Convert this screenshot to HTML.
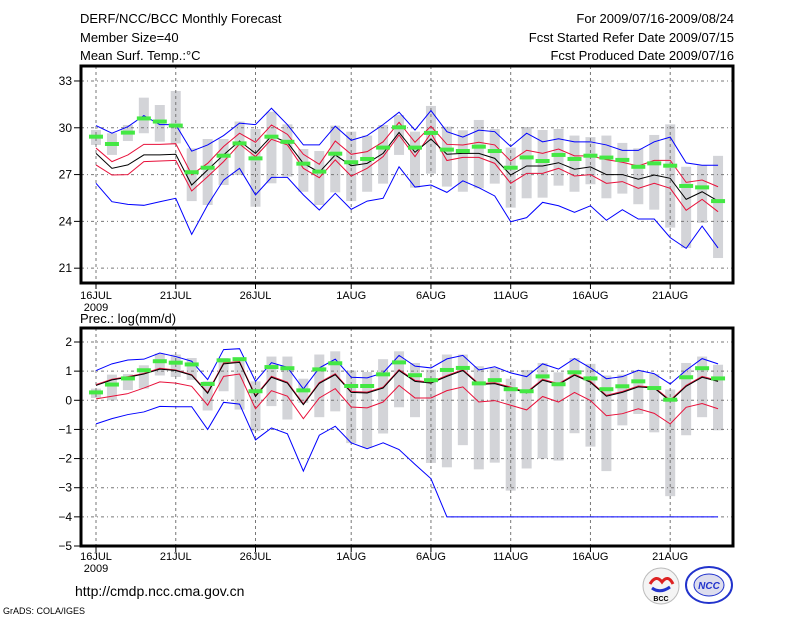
<!DOCTYPE html>
<html><head><meta charset="utf-8"><style>
html,body{margin:0;padding:0;background:#fff}
svg{display:block}
text{font-family:"Liberation Sans",sans-serif;fill:#000}
</style></head><body>
<svg id="chart" width="800" height="618" viewBox="0 0 800 618">
<g font-size="13">
<text x="80" y="23">DERF/NCC/BCC Monthly Forecast</text>
<text x="80" y="42">Member Size=40</text>
<text x="80" y="60">Mean Surf. Temp.:°C</text>
<text x="734" y="23" text-anchor="end">For 2009/07/16-2009/08/24</text>
<text x="734" y="42" text-anchor="end">Fcst Started Refer Date 2009/07/15</text>
<text x="734" y="60" text-anchor="end">Fcst Produced Date 2009/07/16</text>
</g>
<text x="80" y="323" font-size="13">Prec.: log(mm/d)</text>
<g id="top"></g>
<g id="bot"></g>
<text x="75" y="596" font-size="14">http://cmdp.ncc.cma.gov.cn</text>
<text x="3" y="614" font-size="9">GrADS: COLA/IGES</text>
<g>
<circle cx="661" cy="586" r="18" fill="#f4f4f4" stroke="#bbb"/>
<path d="M650 584 q6 -10 12 -2 q6 -8 11 2" stroke="#d22" stroke-width="3" fill="none"/>
<path d="M652 588 q8 6 18 -1" stroke="#23c" stroke-width="3" fill="none"/>
<text x="661" y="601" font-size="7" text-anchor="middle" font-weight="bold">BCC</text>
</g>
<g>
<ellipse cx="709" cy="585" rx="23" ry="18" fill="#fff" stroke="#23c" stroke-width="2"/>
<ellipse cx="709" cy="585" rx="15" ry="11" fill="#dde" stroke="#23c"/>
<text x="709" y="589" font-size="10" font-style="italic" font-weight="bold" text-anchor="middle" style="fill:#23c">NCC</text>
</g>
</svg>
<script>
// ---- temperature data ----
const days = ["16JUL","21JUL","26JUL","1AUG","6AUG","11AUG","16AUG","21AUG"];
const tickDays = [0,5,10,16,21,26,31,36];
const tTicks = [33,30,27,24,21];
const tMax = [30.14,29.65,30.07,30.78,30.2,30.2,28.5,28.9,29.5,30.3,30.2,31.25,30.2,28.9,28.9,30.1,29.2,29.5,30.2,31.0,29.85,31.1,29.75,29.4,29.85,29.75,28.8,29.65,29.1,29.3,29.1,29.1,28.9,28.55,28.55,29.1,29.4,27.75,27.6,27.6];
const tMin = [26.44,25.26,25.09,25.03,25.26,25.48,23.17,25.05,26.65,27.4,25.7,26.82,26.82,25.7,24.73,25.8,24.77,25.3,25.48,27.5,26.2,26.33,25.86,26.6,26.16,25.63,23.98,24.24,25.22,25.0,24.58,25.0,24.07,24.75,24.15,24.15,22.96,22.27,23.7,22.3];
const tMean = [28.36,27.4,27.62,28.26,28.26,28.3,26.33,27.3,28.26,29.15,28.36,29.47,29.07,27.72,27.15,28.26,27.57,27.72,28.36,29.7,28.43,29.28,28.3,28.36,28.36,28.04,26.97,27.55,27.55,27.76,27.34,27.49,27.0,27.0,26.7,26.97,26.76,25.41,25.9,25.3];
const tUp = [28.7,27.83,28.26,28.94,28.94,28.98,27.0,27.72,28.8,29.65,29.07,30.18,29.58,28.3,27.66,29.15,28.3,28.47,29.1,30.35,29.07,30.1,28.94,28.9,29.07,28.9,27.87,28.56,28.36,28.64,28.2,28.2,27.96,27.79,27.55,27.91,27.91,26.5,26.65,26.22];
const tLo = [27.62,26.97,27.0,27.83,27.87,27.91,25.95,26.87,27.83,28.96,28.15,29.26,28.9,27.4,26.8,27.94,26.9,27.4,28.15,29.54,28.15,29.65,27.9,28.1,28.1,27.72,26.44,27.08,27.08,27.4,26.91,27.0,26.44,26.55,26.12,26.44,26.12,24.71,25.41,24.62];
const tObs = [29.43,28.96,29.69,30.6,30.4,30.14,27.15,27.44,28.21,29.0,28.04,29.43,29.1,27.7,27.19,28.34,27.79,28.0,28.73,30.03,28.73,29.67,28.6,28.51,28.79,28.51,27.44,28.1,27.87,28.26,28.0,28.21,28.09,27.94,27.5,27.72,27.57,26.27,26.18,25.3];
const tBarHi = [29.86,29.65,30.18,31.93,31.46,32.36,28.68,29.28,29.28,30.4,29.92,31.03,30.22,28.64,28.51,30.14,29.75,29.5,30.18,30.82,29.75,31.4,30.07,29.84,30.5,29.92,28.73,30.05,29.86,29.92,29.5,29.4,29.5,29.03,28.68,29.54,30.22,27.5,27.6,28.2];
const tBarLo = [28.9,28.26,29.15,29.65,29.11,29.0,25.3,25.05,26.33,26.97,24.94,26.44,26.87,25.9,25.05,25.86,25.3,25.9,26.42,28.26,26.16,27.06,26.23,25.9,26.12,26.42,24.88,25.48,25.52,26.29,25.9,26.38,25.48,25.78,25.1,24.75,23.6,22.3,23.9,21.65];
// ---- precipitation data ----
const pTicks = [2,1,0,-1,-2,-3,-4,-5];
const pMax = [1.02,1.25,1.38,1.41,1.62,1.5,1.34,0.71,1.74,1.77,0.65,1.29,1.13,0.39,1.11,1.41,0.79,0.77,0.94,1.54,1.17,1.11,1.42,1.54,1.04,1.15,0.94,0.81,1.25,1.07,1.43,1.11,0.74,0.81,1.03,0.91,0.56,1.03,1.43,1.25];
const pMin = [-0.81,-0.63,-0.49,-0.4,-0.21,-0.22,-0.22,-1.0,-0.07,-0.13,-1.36,-0.95,-1.15,-2.43,-1.2,-0.89,-1.46,-1.66,-1.46,-1.69,-2.2,-2.69,-4,-4,-4,-4,-4,-4,-4,-4,-4,-4,-4,-4,-4,-4,-4,-4,-4,-4];
const pMean = [0.51,0.7,0.79,0.9,1.07,1.02,0.86,0.24,1.25,1.3,0.13,0.79,0.59,-0.15,0.58,0.88,0.27,0.25,0.42,1.02,0.65,0.59,0.82,1.02,0.54,0.57,0.42,0.25,0.69,0.54,0.86,0.62,0.14,0.27,0.46,0.42,-0.03,0.48,0.79,0.65];
const pUp = [0.54,0.72,0.81,0.92,1.1,1.04,0.88,0.27,1.28,1.33,0.16,0.82,0.62,-0.12,0.61,0.91,0.3,0.28,0.45,1.05,0.68,0.62,0.85,1.05,0.57,0.6,0.45,0.28,0.72,0.57,0.89,0.65,0.17,0.3,0.49,0.45,0.0,0.51,0.82,0.68];
const pLo = [0.05,0.14,0.23,0.42,0.63,0.59,0.48,-0.17,0.82,0.9,-0.29,0.33,0.14,-0.63,0.08,0.4,-0.23,-0.26,-0.06,0.51,0.08,0.08,0.33,0.46,-0.06,-0.01,-0.17,-0.33,0.13,-0.06,0.27,-0.01,-0.53,-0.46,-0.29,-0.45,-0.81,-0.24,-0.11,-0.29];
const pObs = [0.27,0.54,0.75,1.03,1.34,1.29,1.23,0.56,1.37,1.41,0.31,1.14,1.1,0.34,1.06,1.27,0.49,0.49,0.89,1.3,0.86,0.69,1.04,1.11,0.58,0.69,0.38,0.31,0.82,0.55,0.96,0.75,0.38,0.48,0.65,0.42,0.02,0.79,1.1,0.75];
const pBarHi = [0.4,0.88,0.9,1.2,1.6,1.57,1.45,0.65,1.45,1.45,0.65,1.5,1.5,0.74,1.57,1.68,1.02,0.97,1.41,1.68,1.28,1.05,1.57,1.57,1.17,1.11,0.74,1.04,1.28,0.96,1.45,1.25,0.85,0.88,1.02,0.9,0.37,1.28,1.5,1.22];
const pBarLo = [0.08,0.0,0.35,0.4,0.85,0.8,0.7,-0.35,0.31,-0.32,-1.06,-0.2,-0.66,-0.09,-0.58,-0.38,-1.47,-1.63,-1.14,-0.24,-0.58,-2.15,-2.3,-1.54,-2.37,-2.14,-3.1,-2.34,-2.0,-2.07,-1.13,-1.59,-2.43,-0.86,-0.47,-1.1,-3.29,-1.2,-0.58,-1.03];

const NS='http://www.w3.org/2000/svg';
function mk(parent,tag,attrs){const e=document.createElementNS(NS,tag);for(const k in attrs)e.setAttribute(k,attrs[k]);parent.appendChild(e);return e;}
const xL=81,xR=733;
function xs(d){return 96+d*15.95;}

function panel(g,top,bottom,vmax,vmin,ticks,gridVals,data,labelY){
  const ys=v=>top+ (vmax-v)/(vmax-vmin)*(bottom-top);
  for(let i=0;i<data.barHi.length;i++){
    const r=mk(g,'rect',{x:xs(i)-5,y:ys(data.barHi[i]),width:10,height:Math.max(1,ys(data.barLo[i])-ys(data.barHi[i])),fill:'#d3d4d8'});
    
    
  }
  gridVals.forEach(v=>{const l=mk(g,'line',{x1:xL,x2:xR,y1:ys(v),y2:ys(v),stroke:'#777','stroke-dasharray':'3,3,1,3'});
    });
  tickDays.forEach(d=>{const l=mk(g,'line',{x1:xs(d),x2:xs(d),y1:top,y2:bottom,stroke:'#777','stroke-dasharray':'3,3'});
    });
  const series=[[data.max,'#0000ff','max-line'],[data.min,'#0000ff','min-line'],[data.up,'#e8103a','upper-line'],[data.lo,'#e8103a','lower-line'],[data.mean,'#000','mean-line']];
  series.forEach(([arr,c,n])=>{
    const pl=mk(g,'polyline',{points:arr.map((v,i)=>xs(i)+','+ys(v)).join(' '),fill:'none',stroke:c,'stroke-width':1});
    
  });
  data.obs.forEach((v,i)=>{const r=mk(g,'rect',{x:xs(i)-7,y:ys(v)-2,width:14,height:4,fill:'#44e844'});
    });
  const f=mk(g,'rect',{x:xL,y:top,width:xR-xL,height:bottom-top,fill:'none',stroke:'#000','stroke-width':3});
  
  ticks.forEach(v=>{
    const tk=mk(g,'line',{x1:xL-7,x2:xL,y1:ys(v),y2:ys(v),stroke:'#000'});
    
    const t=mk(g,'text',{x:xL-9,y:ys(v)+4,'text-anchor':'end','font-size':12});
    t.textContent=(v<0?'\u2212'+(-v):v);
    
  });
  tickDays.forEach((d,k)=>{
    const tk=mk(g,'line',{x1:xs(d),x2:xs(d),y1:bottom,y2:bottom+6,stroke:'#000'});
    
    const t=mk(g,'text',{x:xs(d),y:labelY,'text-anchor':'middle','font-size':11});
    t.textContent=days[k];
    
  });
  const y2=mk(g,'text',{x:xs(0),y:labelY+12,'text-anchor':'middle','font-size':11});
  y2.textContent='2009';
  
}
panel(document.getElementById('top'),66,283,33.96,20.05,tTicks,[33,30,27,24,21],
  {max:tMax,min:tMin,mean:tMean,up:tUp,lo:tLo,obs:tObs,barHi:tBarHi,barLo:tBarLo},299);
panel(document.getElementById('bot'),328,546,2.48,-5,pTicks,[2,1,0,-1,-2,-3,-4],
  {max:pMax,min:pMin,mean:pMean,up:pUp,lo:pLo,obs:pObs,barHi:pBarHi,barLo:pBarLo},560);
</script>
</body></html>
